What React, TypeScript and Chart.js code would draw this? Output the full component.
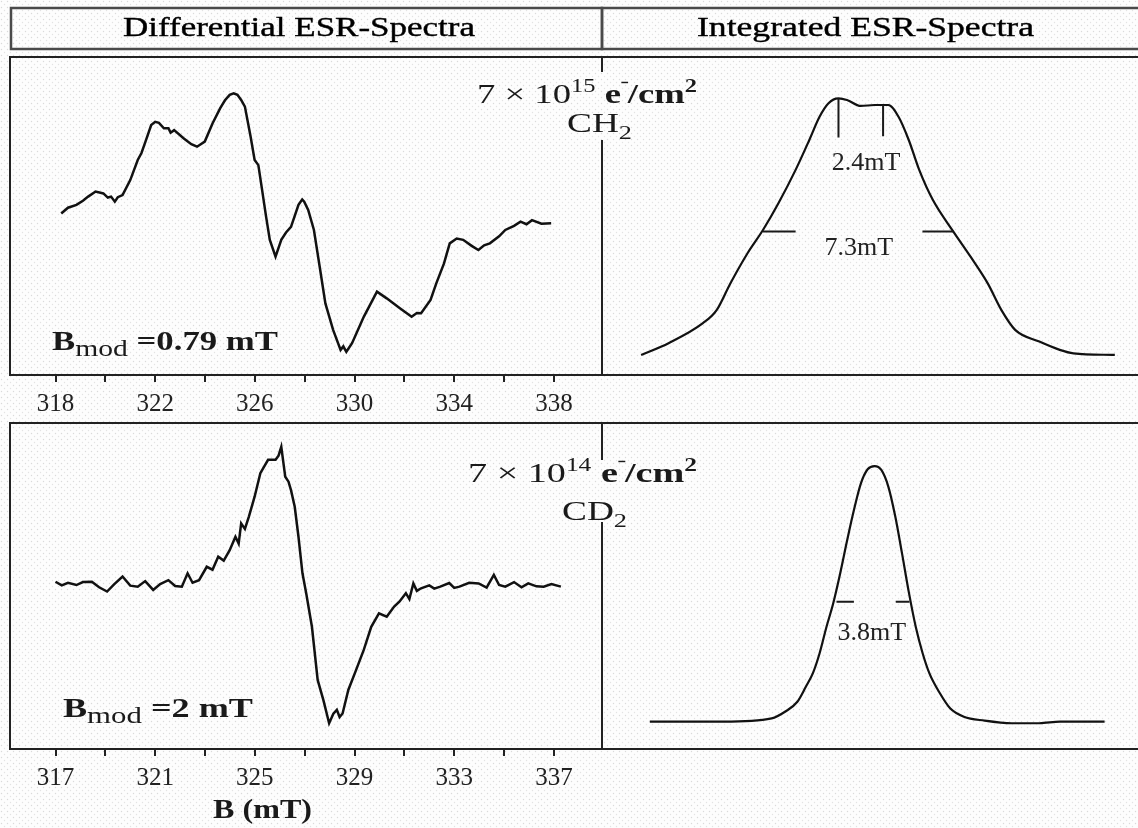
import { useEffect, useRef } from "react";
import { Chart, registerables } from "chart.js";

Chart.register(...registerables);

const SERIF = '"Liberation Serif", "Times New Roman", serif';
const INK = "#1a1a1a";

// ---------- Differential ESR spectrum, 7e15 e-/cm2, CH2 (B in mT, signal a.u.) ----------
const ch2DiffField = [
  318.23, 318.5, 318.84, 319.1, 319.31, 319.61, 319.92, 320.1, 320.23, 320.38, 320.5, 320.69,
  321.0, 321.3, 321.45, 321.61, 321.84, 322.0, 322.15, 322.35, 322.53, 322.62, 322.76, 323.15,
  323.45, 323.68, 323.99, 324.3, 324.61, 324.8, 324.99, 325.15, 325.3, 325.45, 325.6, 325.83,
  325.99, 326.14, 326.29, 326.45, 326.6, 326.83, 327.06, 327.25, 327.45, 327.75, 327.9, 327.98,
  328.14, 328.37, 328.6, 328.83, 329.14, 329.44, 329.55, 329.67, 329.9, 330.37, 330.9, 331.29,
  331.82, 332.29, 332.5, 332.67, 333.05, 333.28, 333.59, 333.82, 334.1, 334.36, 334.7, 334.97,
  335.2, 335.43, 335.8, 336.05, 336.4, 336.66, 336.9, 337.12, 337.5, 337.89,
];
const ch2DiffSignal = [
  50.8, 52.6, 53.5, 54.8, 56.1, 57.7, 57.1, 55.8, 56.1, 54.5, 55.9, 56.6,
  61.3, 67.6, 69.8, 73.4, 78.6, 79.6, 79.3, 77.6, 77.6, 76.2, 77.0, 74.4,
  72.6, 71.8, 73.4, 79.1, 83.9, 86.4, 88.1, 88.6, 88.1, 86.5, 84.4, 74.9,
  67.6, 66.0, 58.2, 49.8, 42.5, 37.2, 42.5, 44.8, 46.6, 53.5, 55.2, 54.5,
  51.9, 45.6, 34.1, 22.5, 14.2, 7.9, 9.0, 7.3, 10.0, 18.3, 26.2, 24.1,
  21.0, 18.3, 19.5, 19.4, 23.6, 28.8, 35.1, 41.4, 42.9, 42.5, 40.6, 39.3,
  40.8, 41.4, 43.6, 45.6, 46.9, 48.2, 47.4, 48.7, 47.6, 47.7,
];

// ---------- Differential ESR spectrum, 7e14 e-/cm2, CD2 ----------
const cd2DiffField = [
  317.0, 317.25, 317.5, 317.84, 318.1, 318.46, 318.75, 319.07, 319.35, 319.69, 320.0, 320.3,
  320.6, 320.92, 321.2, 321.53, 321.8, 322.07, 322.3, 322.5, 322.76, 323.07, 323.3, 323.53,
  323.75, 323.99, 324.22, 324.35, 324.45, 324.6, 324.76, 324.99, 325.22, 325.53, 325.83, 325.95,
  326.06, 326.22, 326.35, 326.45, 326.6, 326.75, 326.91, 327.06, 327.29, 327.52, 327.75, 327.98,
  328.15, 328.29, 328.4, 328.52, 328.75, 329.06, 329.37, 329.67, 329.98, 330.29, 330.59, 330.8,
  331.06, 331.2, 331.36, 331.5, 331.67, 332.0, 332.2, 332.44, 332.8, 333.0, 333.21, 333.6,
  333.98, 334.3, 334.59, 334.8, 335.05, 335.4, 335.7, 335.97, 336.3, 336.59, 336.9, 337.28,
];
const cd2DiffSignal = [
  51.3, 50.2, 51.0, 50.3, 51.2, 51.3, 49.6, 48.3, 50.5, 52.9, 50.1, 49.8,
  51.5, 48.8, 50.6, 51.8, 50.0, 49.8, 53.9, 51.0, 51.8, 55.9, 55.0, 59.0,
  57.8, 61.0, 65.1, 63.0, 69.2, 67.5, 71.3, 77.4, 84.6, 88.7, 88.7, 90.0,
  92.7, 83.5, 82.0, 79.4, 74.3, 65.1, 53.9, 47.8, 37.5, 21.2, 15.0, 7.9,
  10.8, 12.0, 9.8, 10.9, 18.1, 24.2, 30.4, 37.5, 41.6, 40.6, 43.7, 45.2,
  47.8, 46.0, 50.8, 48.5, 49.3, 50.2, 49.2, 49.8, 50.9, 49.4, 49.8, 51.0,
  50.8, 49.5, 53.4, 50.3, 49.8, 51.2, 49.6, 50.8, 49.9, 49.8, 50.6, 49.8,
];

// ---------- Integrated spectra ----------
const ch2IntField = [
  318.2, 319.3, 320.68, 321.23, 321.78, 322.47, 323.09, 323.71, 324.4, 324.95, 325.36, 325.71,
  326.12, 326.46, 327.01, 327.57, 328.12, 328.53, 328.94, 329.36, 329.91, 330.73, 331.42, 332.11,
  332.66, 333.21, 334.18, 335.0, 335.55, 337.21,
];
const ch2IntSignal = [
  6.3, 10.0, 16.3, 20.4, 28.8, 38.3, 45.6, 54.0, 64.5, 73.9, 81.2, 85.4,
  87.0, 86.5, 84.6, 84.9, 84.9, 81.2, 73.9, 64.5, 55.0, 45.1, 37.2, 28.8,
  20.4, 14.2, 10.5, 7.9, 6.8, 6.3,
];
const cd2IntField = [
  318.55, 319.99, 321.51, 323.44, 323.99, 324.47, 324.81, 325.09, 325.36, 325.64, 325.91, 326.19,
  326.47, 326.74, 327.02, 327.29, 327.57, 327.84, 328.12, 328.4, 328.67, 328.95, 329.22, 329.5,
  329.77, 330.19, 330.6, 331.15, 331.98, 333.08, 334.18, 335.01, 336.8,
];
const cd2IntSignal = [
  8.4, 8.4, 8.4, 9.4, 11.5, 14.5, 19.1, 23.2, 29.3, 37.5, 44.7, 53.9,
  64.1, 73.3, 81.5, 85.8, 86.8, 85.6, 80.5, 71.3, 60.0, 47.8, 37.5, 29.3,
  23.2, 17.1, 12.5, 9.9, 8.7, 7.9, 7.9, 8.4, 8.4,
];

// ---------- Axis ticks (mT) ----------
const topTicks = [318, 320, 322, 324, 326, 328, 330, 332, 334, 336, 338];
const topTickLabels = [318, 322, 326, 330, 334, 338];
const bottomTicks = [317, 319, 321, 323, 325, 327, 329, 331, 333, 335, 337];
const bottomTickLabels = [317, 321, 325, 329, 333, 337];

// ---------- Width markers on the integrated spectra ----------
const ch2SplitField = [326.12, 327.91];
const ch2SplitTop = [87.0, 84.9];
const ch2SplitBottom = [74.7, 75.1];
const ch2HalfStart = [323.09, 329.49];
const ch2HalfEnd = [324.4, 330.73];
const ch2HalfLevel = [45.1, 45.1];
const ch2WidthText = ["2.4mT", "7.3mT"];
const ch2WidthField = [327.23, 326.94];
const ch2WidthLevel = [66.6, 39.9];

const cd2HalfStart = [326.04, 328.42];
const cd2HalfEnd = [326.74, 328.97];
const cd2HalfLevel = [45.2, 45.2];
const cd2WidthText = ["3.8mT"];
const cd2WidthField = [327.46];
const cd2WidthLevel = [35.5];

type Markers = {
  vField?: number[];
  vTop?: number[];
  vBottom?: number[];
  hStart?: number[];
  hEnd?: number[];
  hLevel?: number[];
  text?: string[];
  textField?: number[];
  textLevel?: number[];
};

function toPoints(xs: number[], ys: number[]) {
  return xs.map((x, i) => ({ x, y: ys[i] }));
}

function framePlugin(sides: string) {
  return {
    id: "frame",
    afterDraw(chart: any) {
      const { ctx, chartArea: a } = chart;
      ctx.save();
      ctx.strokeStyle = "#222";
      ctx.lineWidth = 2;
      ctx.beginPath();
      if (sides.includes("t")) { ctx.moveTo(a.left, a.top); ctx.lineTo(a.right, a.top); }
      if (sides.includes("b")) { ctx.moveTo(a.left, a.bottom); ctx.lineTo(a.right, a.bottom); }
      if (sides.includes("l")) { ctx.moveTo(a.left, a.top - 1); ctx.lineTo(a.left, a.bottom + 1); }
      if (sides.includes("r")) { ctx.moveTo(a.right, a.top - 1); ctx.lineTo(a.right, a.bottom + 1); }
      ctx.stroke();
      ctx.restore();
    },
  };
}

function markerPlugin(m: Markers) {
  return {
    id: "widthMarkers",
    afterDatasetsDraw(chart: any) {
      const { ctx } = chart;
      const xs = chart.scales.x;
      const ys = chart.scales.y;
      ctx.save();
      ctx.strokeStyle = INK;
      ctx.lineWidth = 2;
      ctx.beginPath();
      (m.vField || []).forEach((f, i) => {
        const px = xs.getPixelForValue(f);
        ctx.moveTo(px, ys.getPixelForValue(m.vTop![i]));
        ctx.lineTo(px, ys.getPixelForValue(m.vBottom![i]));
      });
      (m.hStart || []).forEach((s, i) => {
        const py = ys.getPixelForValue(m.hLevel![i]);
        ctx.moveTo(xs.getPixelForValue(s), py);
        ctx.lineTo(xs.getPixelForValue(m.hEnd![i]), py);
      });
      ctx.stroke();
      ctx.fillStyle = "#222";
      ctx.font = `26px ${SERIF}`;
      ctx.textAlign = "center";
      ctx.textBaseline = "middle";
      (m.text || []).forEach((t, i) => {
        ctx.fillText(t, xs.getPixelForValue(m.textField![i]), ys.getPixelForValue(m.textLevel![i]));
      });
      ctx.restore();
    },
  };
}

function makeConfig(opts: {
  field: number[];
  signal: number[];
  min: number;
  max: number;
  padding: any;
  ticks?: number[];
  tickLabels?: number[];
  smooth: boolean;
  sides: string;
  markers?: Markers;
}): any {
  const showAxis = !!opts.ticks;
  const plugins: any[] = [framePlugin(opts.sides)];
  if (opts.markers) plugins.push(markerPlugin(opts.markers));
  return {
    type: "line",
    data: {
      datasets: [
        {
          data: toPoints(opts.field, opts.signal),
          borderColor: "#111",
          borderWidth: opts.smooth ? 2.2 : 2.5,
          pointRadius: 0,
          tension: opts.smooth ? 0.4 : 0,
          cubicInterpolationMode: opts.smooth ? "monotone" : "default",
          fill: false,
        },
      ],
    },
    options: {
      responsive: false,
      animation: false,
      events: [],
      layout: { padding: opts.padding },
      plugins: { legend: { display: false }, tooltip: { enabled: false }, title: { display: false } },
      scales: {
        x: {
          type: "linear",
          display: showAxis,
          min: opts.min,
          max: opts.max,
          afterBuildTicks: (s: any) => {
            if (opts.ticks) s.ticks = opts.ticks.map((v) => ({ value: v }));
          },
          afterFit: (s: any) => {
            s.height = showAxis ? 45 : 0;
          },
          border: { display: false },
          grid: {
            drawOnChartArea: false,
            drawTicks: true,
            tickLength: 7,
            color: "#222",
            lineWidth: 2,
          },
          ticks: {
            autoSkip: false,
            maxRotation: 0,
            minRotation: 0,
            padding: 7,
            color: "#222",
            font: { family: SERIF, size: 25 },
            callback: (v: any) => (opts.tickLabels && opts.tickLabels.includes(Number(v)) ? String(v) : ""),
          },
        },
        y: { type: "linear", display: false, min: 0, max: 100 },
      },
    },
    plugins,
  };
}

export default function App() {
  const tl = useRef<HTMLCanvasElement>(null);
  const tr = useRef<HTMLCanvasElement>(null);
  const bl = useRef<HTMLCanvasElement>(null);
  const br = useRef<HTMLCanvasElement>(null);

  useEffect(() => {
    const charts = [
      new Chart(
        tl.current!,
        makeConfig({
          field: ch2DiffField,
          signal: ch2DiffSignal,
          min: 316.174,
          max: 339.93,
          padding: { left: 10, top: 57, right: 2, bottom: 0 },
          ticks: topTicks,
          tickLabels: topTickLabels,
          smooth: false,
          sides: "tblr",
        })
      ),
      new Chart(
        bl.current!,
        makeConfig({
          field: cd2DiffField,
          signal: cd2DiffSignal,
          min: 315.174,
          max: 338.93,
          padding: { left: 10, top: 43, right: 2, bottom: 0 },
          ticks: bottomTicks,
          tickLabels: bottomTickLabels,
          smooth: false,
          sides: "tblr",
        })
      ),
      new Chart(
        tr.current!,
        makeConfig({
          field: ch2IntField,
          signal: ch2IntSignal,
          min: 316.63,
          max: 338.14,
          padding: { left: 2, top: 57, right: 0, bottom: 5 },
          smooth: true,
          sides: "tb",
          markers: {
            vField: ch2SplitField,
            vTop: ch2SplitTop,
            vBottom: ch2SplitBottom,
            hStart: ch2HalfStart,
            hEnd: ch2HalfEnd,
            hLevel: ch2HalfLevel,
            text: ch2WidthText,
            textField: ch2WidthField,
            textLevel: ch2WidthLevel,
          },
        })
      ),
      new Chart(
        br.current!,
        makeConfig({
          field: cd2IntField,
          signal: cd2IntSignal,
          min: 316.63,
          max: 338.14,
          padding: { left: 2, top: 43, right: 0, bottom: 5 },
          smooth: true,
          sides: "tb",
          markers: {
            hStart: cd2HalfStart,
            hEnd: cd2HalfEnd,
            hLevel: cd2HalfLevel,
            text: cd2WidthText,
            textField: cd2WidthField,
            textLevel: cd2WidthLevel,
          },
        })
      ),
    ];
    return () => charts.forEach((c) => c.destroy());
  }, []);

  const dots = (id: string) => (
    <pattern id={id} width="6" height="6" patternUnits="userSpaceOnUse">
      <rect width="6" height="6" fill="#fdfdfd" />
      <circle cx="1.5" cy="1.5" r="0.7" fill="#dadada" />
      <circle cx="4.5" cy="4.5" r="0.7" fill="#e3e3e3" />
    </pattern>
  );

  const abs = (left: number, top: number): any => ({ position: "absolute", left, top, display: "block" });

  return (
    <div style={{ position: "fixed", left: 0, top: 0, width: 1138, height: 828, overflow: "hidden", background: "#fdfdfd" }}>
      <svg width={1138} height={828} style={abs(0, 0)}>
        <defs>{dots("dotsBg")}</defs>
        <rect width={1138} height={828} fill="url(#dotsBg)" />
      </svg>

      <canvas ref={tl} width={604} height={420} style={abs(0, 0)} />
      <canvas ref={bl} width={604} height={414} style={abs(0, 380)} />
      <canvas ref={tr} width={538} height={380} style={abs(600, 0)} />
      <canvas ref={br} width={538} height={374} style={abs(600, 380)} />

      <svg width={1138} height={828} style={{ ...abs(0, 0), pointerEvents: "none" }} fontFamily={SERIF}>
        <defs>{dots("dotsFg")}</defs>
        {/* header boxes */}
        <rect x={11} y={8} width={591} height={41} fill="none" stroke="#4a4a4a" strokeWidth={2.5} />
        <rect x={602} y={8} width={560} height={41} fill="none" stroke="#4a4a4a" strokeWidth={2.5} />
        <text x={123} y={36} fontSize={28} fill="#000" stroke="#000" strokeWidth={0.4} textLength={352} lengthAdjust="spacingAndGlyphs">
          Differential ESR-Spectra
        </text>
        <text x={697} y={36} fontSize={28} fill="#000" stroke="#000" strokeWidth={0.4} textLength={337} lengthAdjust="spacingAndGlyphs">
          Integrated ESR-Spectra
        </text>

        {/* dose / sample labels (top) */}
        <rect x={474} y={72} width={228} height={68} fill="url(#dotsFg)" />
        <text x={477} y={103} fontSize={27} fill={INK} textLength={220} lengthAdjust="spacingAndGlyphs">
          {"7 × 10"}
          <tspan dy={-11} fontSize={18}>15</tspan>
          <tspan dy={11} fontWeight="bold">{" e"}</tspan>
          <tspan dy={-11} fontSize={16} fontWeight="bold">{"⁻"}</tspan>
          <tspan dy={11} fontWeight="bold">{"/cm"}</tspan>
          <tspan dy={-11} fontSize={18} fontWeight="bold">2</tspan>
        </text>
        <text x={567} y={132} fontSize={27} fill={INK} textLength={65} lengthAdjust="spacingAndGlyphs">
          {"CH"}
          <tspan dy={7} fontSize={19}>2</tspan>
        </text>

        {/* dose / sample labels (bottom) */}
        <rect x={465} y={460} width={237} height={62} fill="url(#dotsFg)" />
        <text x={468} y={482} fontSize={27} fill={INK} textLength={229} lengthAdjust="spacingAndGlyphs">
          {"7 × 10"}
          <tspan dy={-11} fontSize={18}>14</tspan>
          <tspan dy={11} fontWeight="bold">{" e"}</tspan>
          <tspan dy={-11} fontSize={16} fontWeight="bold">{"⁻"}</tspan>
          <tspan dy={11} fontWeight="bold">{"/cm"}</tspan>
          <tspan dy={-11} fontSize={18} fontWeight="bold">2</tspan>
        </text>
        <text x={562} y={520} fontSize={27} fill={INK} textLength={65} lengthAdjust="spacingAndGlyphs">
          {"CD"}
          <tspan dy={7} fontSize={19}>2</tspan>
        </text>

        {/* modulation amplitude labels */}
        <text x={52} y={350} fontSize={27} fill={INK} textLength={226} lengthAdjust="spacingAndGlyphs">
          <tspan fontWeight="bold">B</tspan>
          <tspan dy={6} fontSize={23}>mod</tspan>
          <tspan dy={-6} fontWeight="bold">{" =0.79 mT"}</tspan>
        </text>
        <text x={63} y={717} fontSize={27} fill={INK} textLength={190} lengthAdjust="spacingAndGlyphs">
          <tspan fontWeight="bold">B</tspan>
          <tspan dy={6} fontSize={23}>mod</tspan>
          <tspan dy={-6} fontWeight="bold">{" =2 mT"}</tspan>
        </text>

        {/* x-axis title */}
        <text x={213} y={818} fontSize={27} fontWeight="bold" fill={INK} textLength={99} lengthAdjust="spacingAndGlyphs">
          B (mT)
        </text>
      </svg>
    </div>
  );
}
